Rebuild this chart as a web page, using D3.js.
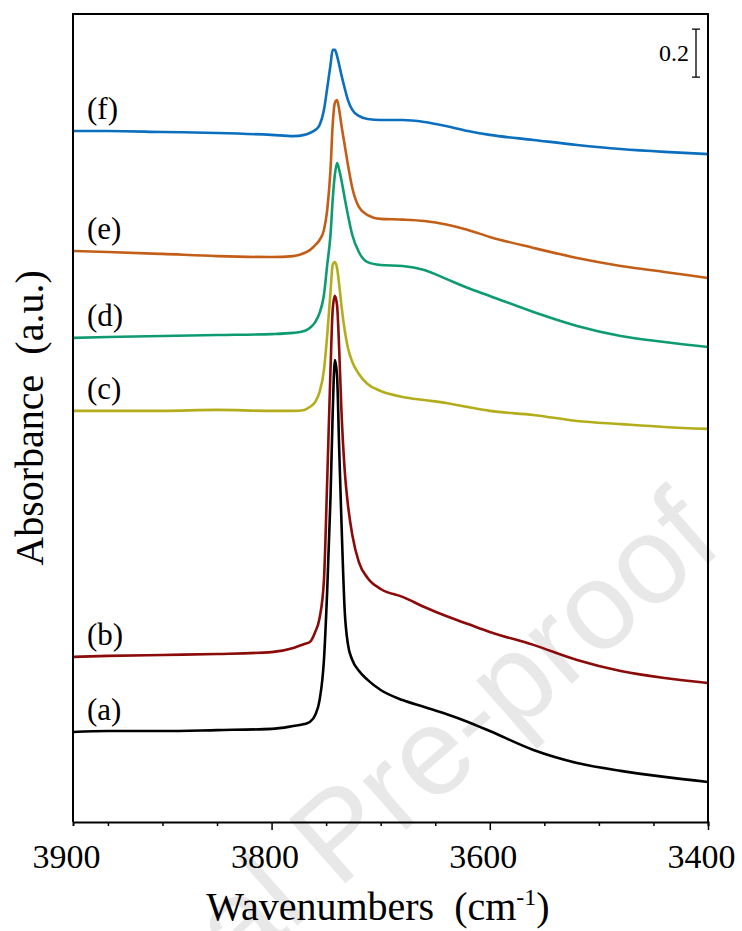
<!DOCTYPE html>
<html>
<head>
<meta charset="utf-8">
<script src="https://cdn.jsdelivr.net/npm/d3@7"></script>
<style>
  body { margin: 0; background: #fff; }
  svg { display: block; }
  text { font-family: "Liberation Serif", "Times New Roman", serif; fill: #000; }
</style>
</head>
<body>
<div id="chart"></div>
<script>
// wavenumber grid (cm-1), shared by all spectra
const wavenumbers = [3982, 3950, 3900, 3850, 3800, 3780, 3770, 3765, 3760, 3756, 3752, 3749,
  3746, 3744, 3742, 3740, 3738, 3736, 3733, 3730, 3726, 3720, 3712, 3700, 3680, 3660,
  3640, 3620, 3600, 3560, 3520, 3480, 3440, 3400];

// absorbance (offset stacked, a.u.)
const specA = [0.375, 0.379, 0.379, 0.383, 0.388, 0.400, 0.408, 0.417, 0.446, 0.508, 0.675, 0.967,
  1.350, 1.700, 1.925, 1.860, 1.550, 1.258, 0.883, 0.740, 0.675, 0.630, 0.592, 0.550, 0.508, 0.479,
  0.450, 0.417, 0.379, 0.300, 0.246, 0.213, 0.188, 0.167];
const specB = [0.688, 0.692, 0.696, 0.700, 0.708, 0.725, 0.742, 0.750, 0.792, 0.850, 1.008, 1.425,
  1.883, 2.133, 2.192, 2.154, 1.967, 1.717, 1.467, 1.321, 1.196, 1.083, 1.017, 0.971, 0.938, 0.896,
  0.858, 0.825, 0.792, 0.738, 0.675, 0.629, 0.600, 0.579];
const specC = [1.713, 1.713, 1.713, 1.717, 1.713, 1.713, 1.717, 1.729, 1.750, 1.792, 1.883, 2.029,
  2.208, 2.321, 2.333, 2.308, 2.238, 2.154, 2.050, 1.975, 1.917, 1.867, 1.825, 1.796, 1.771, 1.758,
  1.746, 1.729, 1.713, 1.696, 1.671, 1.658, 1.646, 1.638];
const specD = [2.017, 2.021, 2.025, 2.029, 2.033, 2.038, 2.046, 2.058, 2.083, 2.121, 2.196, 2.321,
  2.446, 2.592, 2.696, 2.746, 2.717, 2.675, 2.600, 2.529, 2.446, 2.375, 2.333, 2.321, 2.317, 2.300,
  2.263, 2.225, 2.192, 2.125, 2.067, 2.025, 2.000, 1.979];
const specE = [2.379, 2.375, 2.367, 2.358, 2.354, 2.358, 2.371, 2.383, 2.404, 2.425, 2.467, 2.550,
  2.717, 2.904, 2.996, 3.008, 2.967, 2.904, 2.821, 2.738, 2.642, 2.563, 2.529, 2.513, 2.510, 2.504,
  2.490, 2.467, 2.438, 2.392, 2.350, 2.317, 2.292, 2.267];
const specF = [2.879, 2.879, 2.875, 2.871, 2.863, 2.858, 2.863, 2.871, 2.883, 2.904, 2.967, 3.058,
  3.154, 3.217, 3.217, 3.192, 3.154, 3.113, 3.058, 3.008, 2.967, 2.942, 2.929, 2.925, 2.925, 2.917,
  2.900, 2.879, 2.863, 2.842, 2.821, 2.804, 2.792, 2.783];

const seriesLabels = ['(a)', '(b)', '(c)', '(d)', '(e)', '(f)'];
const seriesColors = ['#000000', '#8b0a0a', '#b3ad1b', '#0e9b72', '#c25e17', '#0b6fbd'];

// x axis: minor ticks every 50, labelled positions
const xTicks = [3950, 3900, 3850, 3800, 3750, 3700, 3650, 3600, 3550, 3500, 3450, 3400];
const xMajor = [3800, 3600, 3400];
const xLabelValues = [3982, 3800, 3600, 3400];
const xLabelText = ['3900', '3800', '3600', '3400'];

// scale bar (0.2 a.u.)
const barTop = 3.304;
const barSize = 0.2;

let svgWidth = 742;
let svgHeight = 931;
let margin = { top: 14, right: 34, bottom: 109, left: 73 };
let width = svgWidth - margin.left - margin.right;
let height = svgHeight - margin.top - margin.bottom;

let svg = d3.select('#chart').append('svg')
  .attr('width', svgWidth)
  .attr('height', svgHeight);

// watermark behind everything
svg.append('text')
  .attr('transform', 'translate(697, 516) rotate(-41.4)')
  .attr('text-anchor', 'end')
  .attr('dominant-baseline', 'central')
  .style('font-family', '"Liberation Sans", Arial, sans-serif')
  .style('font-size', '124px')
  .style('fill', '#e8e8e8')
  .text('Journal Pre-proof');

let chartGroup = svg.append('g')
  .attr('transform', `translate(${margin.left}, ${margin.top})`);

let x = d3.scaleLinear()
  .domain([3982, 3400])
  .range([0, width]);

let y = d3.scaleLinear()
  .domain([0, height / 240])
  .range([height, 0]);

// spectra
let line = d3.line()
  .x(d => x(d[0]))
  .y(d => y(d[1]))
  .curve(d3.curveMonotoneX);

let spectra = [specA, specB, specC, specD, specE, specF];

spectra.forEach(function (vals, i) {
  let pts = wavenumbers.map((w, j) => [w, vals[j]]);
  chartGroup.append('path')
    .datum(pts)
    .attr('fill', 'none')
    .attr('stroke', seriesColors[i])
    .attr('stroke-width', 2.6)
    .attr('stroke-linejoin', 'round')
    .attr('d', line);

  chartGroup.append('text')
    .attr('x', 14)
    .attr('y', y(vals[0]) - 12)
    .style('font-size', '31px')
    .text(seriesLabels[i]);
});

// frame
chartGroup.append('path')
  .attr('d', `M0,${height}V0H${width}V${height}`)
  .attr('fill', 'none')
  .attr('stroke', '#000')
  .attr('stroke-width', 2);

// bottom axis with ticks
let xAxis = chartGroup.append('g')
  .attr('transform', `translate(0, ${height})`)
  .call(d3.axisBottom(x).tickValues(xTicks).tickSize(4).tickFormat(''));

xAxis.select('.domain').attr('stroke-width', 2);
xAxis.selectAll('.tick line')
  .attr('stroke-width', 1.5)
  .attr('y2', d => xMajor.includes(d) ? 8 : 4);

let xLabels = chartGroup.append('g')
  .attr('transform', `translate(0, ${height})`)
  .call(d3.axisBottom(x).tickValues(xLabelValues).tickSize(0)
    .tickFormat((d, i) => xLabelText[i]));

xLabels.select('.domain').remove();
xLabels.selectAll('text')
  .attr('y', 46)
  .attr('dy', 0)
  .attr('dx', -7)
  .style('font-family', '"Liberation Serif", "Times New Roman", serif')
  .style('font-size', '34px');

// axis titles
let xTitle = svg.append('text')
  .attr('x', 378)
  .attr('y', 920)
  .attr('text-anchor', 'middle')
  .style('font-size', '40px')
  .attr('xml:space', 'preserve');
xTitle.append('tspan').text('Wavenumbers  (cm');
xTitle.append('tspan').attr('dy', -15).style('font-size', '24px').text('-1');
xTitle.append('tspan').attr('dy', 15).text(')');

svg.append('text')
  .attr('transform', 'translate(43, 418) rotate(-90)')
  .attr('text-anchor', 'middle')
  .attr('xml:space', 'preserve')
  .style('font-size', '40px')
  .text('Absorbance  (a.u.)');

// scale bar
let barX = 623;
chartGroup.append('path')
  .attr('d', `M${barX},${y(barTop)}V${y(barTop - barSize)}M${barX - 4},${y(barTop)}H${barX + 4}M${barX - 4},${y(barTop - barSize)}H${barX + 4}`)
  .attr('stroke', '#000')
  .attr('stroke-width', 1.3)
  .attr('fill', 'none');

chartGroup.append('text')
  .attr('x', barX - 7)
  .attr('y', y(barTop - barSize / 2) + 8)
  .attr('text-anchor', 'end')
  .style('font-size', '24px')
  .text('0.2');
</script>
</body>
</html>
